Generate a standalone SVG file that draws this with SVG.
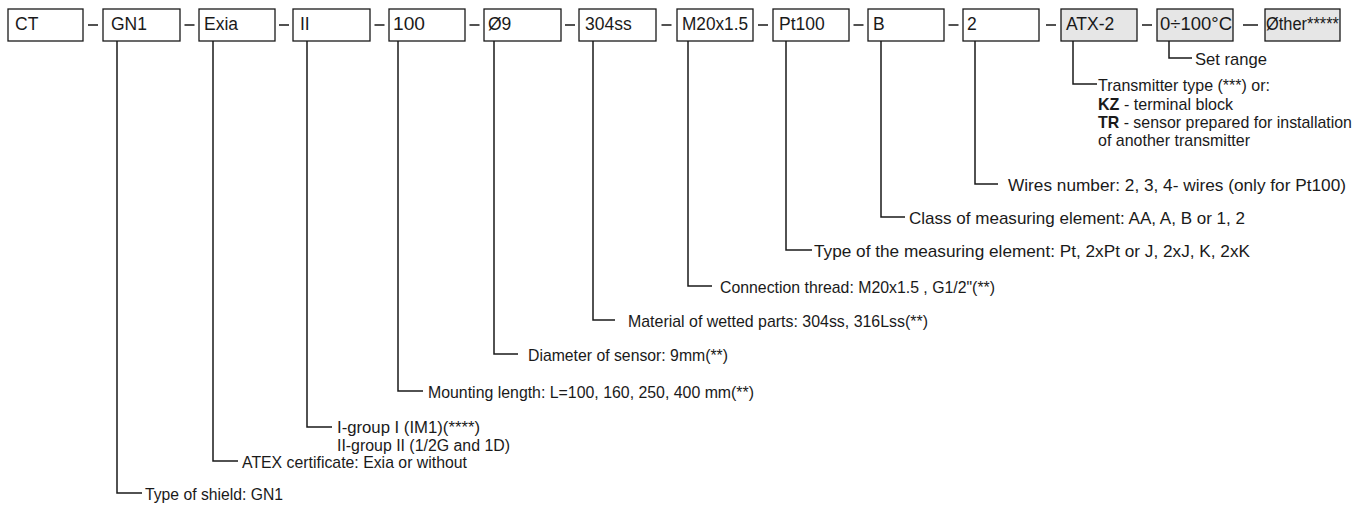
<svg xmlns="http://www.w3.org/2000/svg" width="1368" height="506" viewBox="0 0 1368 506">
<style>
.box{fill:#ffffff;stroke:#1a1a1a;stroke-width:1.3}
.opt{fill:#e6e6e6;stroke:#1a1a1a;stroke-width:1.3}
.lbl{font-family:"Liberation Sans",Arial,sans-serif;font-size:17.5px;fill:#1a1a1a}
.ann{font-family:"Liberation Sans",Arial,sans-serif;font-size:17px;fill:#1a1a1a}
.sm{font-size:16px}
.ln{fill:none;stroke:#1a1a1a;stroke-width:1.5}
.b{font-weight:bold}
</style>
<rect width="1368" height="506" fill="#ffffff"/>
<g id="n-ct"><rect class="box" x="8" y="9" width="75" height="32"/><text class="lbl" x="15" y="30">CT</text></g>
<g id="n-gn1"><rect class="box" x="103" y="9" width="77" height="32"/><text class="lbl" x="111" y="30">GN1</text></g>
<g id="n-exia"><rect class="box" x="199" y="9" width="76" height="32"/><text class="lbl" x="204" y="30">Exia</text></g>
<g id="n-ii"><rect class="box" x="293" y="9" width="77" height="32"/><text class="lbl" x="300" y="30">II</text></g>
<g id="n-100"><rect class="box" x="389" y="9" width="76" height="32"/><text class="lbl" x="393" y="30" textLength="32" lengthAdjust="spacingAndGlyphs">100</text></g>
<g id="n-d9"><rect class="box" x="484" y="9" width="77" height="32"/><text class="lbl" x="488" y="30">Ø9</text></g>
<g id="n-304ss"><rect class="box" x="579" y="9" width="77" height="32"/><text class="lbl" x="585" y="30">304ss</text></g>
<g id="n-m20"><rect class="box" x="677" y="9" width="76" height="32"/><text class="lbl" x="682" y="30" textLength="66" lengthAdjust="spacingAndGlyphs">M20x1.5</text></g>
<g id="n-pt100"><rect class="box" x="773" y="9" width="76" height="32"/><text class="lbl" x="779" y="30">Pt100</text></g>
<g id="n-b"><rect class="box" x="868" y="9" width="76" height="32"/><text class="lbl" x="873" y="30">B</text></g>
<g id="n-2"><rect class="box" x="963" y="9" width="76" height="32"/><text class="lbl" x="967" y="30">2</text></g>
<g id="n-atx"><rect class="opt" x="1061" y="9" width="76" height="32"/><text class="lbl" x="1066" y="30">ATX-2</text></g>
<g id="n-range"><rect class="opt" x="1157" y="9" width="76" height="32"/><text class="lbl" x="1160" y="30" textLength="72" lengthAdjust="spacingAndGlyphs">0÷100°C</text></g>
<g id="n-other"><rect class="opt" x="1265" y="9" width="75" height="32"/><text class="lbl" x="1266" y="30" textLength="73" lengthAdjust="spacingAndGlyphs">Øther*****</text></g>
<g id="connectors" class="ln">
<path d="M88 25H98M184.5 25H194.5M279 25H289M374.5 25H384.5M469.5 25H479.5M565 25H575M661.5 25H671.5M758 25H768M853.5 25H863.5M948.5 25H958.5M1046 25H1056M1142 25H1152M1243 25H1258"/>
<path d="M1169 41V58H1192"/>
<path d="M1073 41V84H1097"/>
<path d="M975 41V184H998"/>
<path d="M881 41V217H905"/>
<path d="M786 41V250H812"/>
<path d="M688 41V286H712"/>
<path d="M593 41V320H615"/>
<path d="M494 41V354H518"/>
<path d="M398 41V391H423"/>
<path d="M307 41V427H332"/>
<path d="M213 41V461H238"/>
<path d="M117 41V493H142"/>
</g>
<g id="annotations">
<text class="ann" x="1195" y="65" textLength="72" lengthAdjust="spacingAndGlyphs">Set range</text>
<text class="ann" x="1098" y="91" textLength="172" lengthAdjust="spacingAndGlyphs">Transmitter type (***) or:</text>
<text class="ann" x="1098" y="110" textLength="135" lengthAdjust="spacingAndGlyphs"><tspan class="b">KZ</tspan> - terminal block</text>
<text class="ann" x="1098" y="128" textLength="254" lengthAdjust="spacingAndGlyphs"><tspan class="b">TR</tspan> - sensor prepared for installation</text>
<text class="ann" x="1098" y="146" textLength="152" lengthAdjust="spacingAndGlyphs">of another transmitter</text>
<text class="ann" x="1008" y="191" textLength="338" lengthAdjust="spacingAndGlyphs">Wires number: 2, 3, 4- wires (only for Pt100)</text>
<text class="ann" x="909" y="224" textLength="336" lengthAdjust="spacingAndGlyphs">Class of measuring element: AA, A, B or 1, 2</text>
<text class="ann" x="814" y="257" textLength="436" lengthAdjust="spacingAndGlyphs">Type of the measuring element: Pt, 2xPt or J, 2xJ, K, 2xK</text>
<text class="ann" x="720" y="293" textLength="275" lengthAdjust="spacingAndGlyphs">Connection thread: M20x1.5 , G1/2"(**)</text>
<text class="ann" x="628" y="327" textLength="300" lengthAdjust="spacingAndGlyphs">Material of wetted parts: 304ss, 316Lss(**)</text>
<text class="ann" x="528" y="361" textLength="200" lengthAdjust="spacingAndGlyphs">Diameter of sensor: 9mm(**)</text>
<text class="ann" x="428" y="398" textLength="326" lengthAdjust="spacingAndGlyphs">Mounting length: L=100, 160, 250, 400 mm(**)</text>
<text class="ann sm" x="337" y="433" textLength="143" lengthAdjust="spacingAndGlyphs">I-group I (IM1)(****)</text>
<text class="ann sm" x="337" y="451" textLength="173" lengthAdjust="spacingAndGlyphs">II-group II (1/2G and 1D)</text>
<text class="ann" x="242" y="468" textLength="225" lengthAdjust="spacingAndGlyphs">ATEX certificate: Exia or without</text>
<text class="ann" x="145" y="500" textLength="138" lengthAdjust="spacingAndGlyphs">Type of shield: GN1</text>
</g>
</svg>
